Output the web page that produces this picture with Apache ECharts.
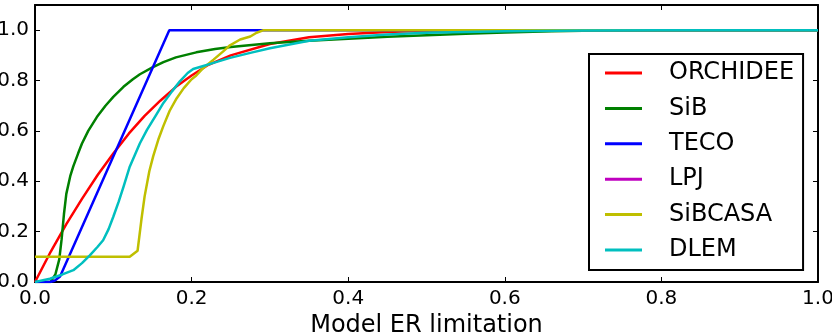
<!DOCTYPE html>
<html>
<head>
<meta charset="utf-8">
<script src="https://cdn.jsdelivr.net/npm/echarts@6/dist/echarts.min.js"></script>
<style>html,body{margin:0;padding:0;background:#fff;}#c{width:832px;height:332px;}</style>
</head>
<body>
<div id="c"></div>
<script>
const seriesNames = ['ORCHIDEE', 'SiB', 'TECO', 'LPJ', 'SiBCASA', 'DLEM'];
const xTicks = [0, 0.2, 0.4, 0.6, 0.8, 1.0];
const yTicks = [0, 0.2, 0.4, 0.6, 0.8, 1.0];

const orchideeX = [0, 0.02, 0.04, 0.06, 0.08, 0.10, 0.12, 0.14, 0.16, 0.18, 0.20, 0.22, 0.25, 0.30, 0.35, 0.40, 0.45, 0.50, 0.55, 0.60, 1.0];
const orchideeY = [0, 0.12, 0.23, 0.33, 0.425, 0.51, 0.59, 0.66, 0.72, 0.775, 0.82, 0.86, 0.90, 0.945, 0.972, 0.985, 0.993, 0.998, 1.0, 1.0, 1.0];

const sibX = [0, 0.02, 0.026, 0.031, 0.034, 0.037, 0.040, 0.045, 0.049, 0.055, 0.060, 0.068, 0.079, 0.09, 0.10, 0.113, 0.125, 0.134, 0.15, 0.164, 0.18, 0.206, 0.23, 0.25, 0.30, 0.35, 0.40, 0.45, 0.50, 0.55, 0.60, 0.66, 0.72, 0.80, 1.0];
const sibY = [0, 0, 0.03, 0.09, 0.17, 0.27, 0.35, 0.42, 0.46, 0.51, 0.55, 0.60, 0.655, 0.70, 0.735, 0.775, 0.805, 0.825, 0.852, 0.873, 0.892, 0.912, 0.925, 0.933, 0.948, 0.958, 0.966, 0.974, 0.980, 0.986, 0.991, 0.996, 0.999, 1.0, 1.0];

const tecoX = [0, 0.019, 0.025, 0.032, 0.1715, 1.0];
const tecoY = [0, 0, 0.005, 0.022, 1.0, 1.0];

const lpjX = [];
const lpjY = [];

const sibcasaX = [0, 0.121, 0.131, 0.136, 0.140, 0.146, 0.151, 0.158, 0.164, 0.172, 0.181, 0.19, 0.20, 0.206, 0.215, 0.228, 0.24, 0.249, 0.262, 0.275, 0.283, 0.292, 1.0];
const sibcasaY = [0.1, 0.1, 0.124, 0.25, 0.34, 0.44, 0.50, 0.57, 0.62, 0.68, 0.73, 0.77, 0.805, 0.82, 0.85, 0.883, 0.915, 0.94, 0.963, 0.975, 0.99, 1.0, 1.0];

const dlemX = [0, 0.019, 0.035, 0.049, 0.06, 0.070, 0.080, 0.087, 0.094, 0.100, 0.107, 0.113, 0.121, 0.134, 0.143, 0.154, 0.164, 0.175, 0.185, 0.195, 0.202, 0.215, 0.228, 0.249, 0.275, 0.30, 0.35, 0.40, 0.45, 0.50, 0.60, 0.70, 0.80, 1.0];
const dlemY = [0, 0.013, 0.03, 0.047, 0.075, 0.106, 0.14, 0.166, 0.21, 0.259, 0.32, 0.378, 0.458, 0.551, 0.604, 0.66, 0.711, 0.757, 0.797, 0.83, 0.846, 0.858, 0.870, 0.890, 0.91, 0.928, 0.958, 0.972, 0.983, 0.99, 0.996, 0.999, 1.0, 1.0];

const colors = ['#ff0000', '#008000', '#0000ff', '#bf00bf', '#bfbf00', '#00bfbf'];
const xs = [orchideeX, sibX, tecoX, lpjX, sibcasaX, dlemX];
const ys = [orchideeY, sibY, tecoY, lpjY, sibcasaY, dlemY];

const font = 'DejaVu Sans';
const chart = echarts.init(document.getElementById('c'), null, {renderer: 'canvas'});

const axisLineStyle = {show: true, onZero: false, lineStyle: {color: '#000', width: 2}};
const tickStyle = {show: true, inside: true, length: 5, lineStyle: {color: '#000', width: 1}};

chart.setOption({
  animation: false,
  backgroundColor: '#fff',
  grid: {left: 35, right: 14, top: 5, bottom: 50, containLabel: false, outerBoundsMode: 'none'},
  legend: {
    orient: 'vertical',
    left: 589,
    top: 54,
    padding: [5, 9, 6, 16],
    itemGap: 7.4,
    itemWidth: 37,
    itemHeight: 3,
    icon: 'rect',
    borderColor: '#000',
    borderWidth: 2,
    borderRadius: 0,
    backgroundColor: '#fff',
    textStyle: {fontFamily: font, fontSize: 24, color: '#000', lineHeight: 28, padding: [0, 0, 0, 22]},
    data: seriesNames
  },
  xAxis: [{
    type: 'value', min: 0, max: 1, interval: 0.2, position: 'bottom',
    name: 'Model ER limitation', nameLocation: 'middle', nameGap: 20,
    nameTextStyle: {fontFamily: font, fontSize: 24, color: '#000', verticalAlign: 'top'},
    axisLine: axisLineStyle, axisTick: tickStyle,
    axisLabel: {fontFamily: font, fontSize: 20, color: '#000', margin: 7, hideOverlap: false,
      formatter: v => v.toFixed(1)},
    splitLine: {show: false}
  }, {
    type: 'value', min: 0, max: 1, interval: 0.2, position: 'top',
    axisLine: axisLineStyle, axisTick: tickStyle, axisLabel: {show: false}, splitLine: {show: false}
  }],
  yAxis: [{
    type: 'value', min: 0, max: 1.1, interval: 0.2, position: 'left',
    axisLine: axisLineStyle, axisTick: tickStyle,
    axisLabel: {fontFamily: font, fontSize: 20, color: '#000', margin: 6,
      formatter: v => (v > 1.05 ? '' : v.toFixed(1))},
    splitLine: {show: false}
  }, {
    type: 'value', min: 0, max: 1.1, interval: 0.2, position: 'right',
    axisLine: axisLineStyle, axisTick: tickStyle, axisLabel: {show: false}, splitLine: {show: false}
  }],
  series: seriesNames.map((name, i) => ({
    name: name,
    type: 'line',
    xAxisIndex: 0,
    yAxisIndex: 0,
    color: colors[i],
    showSymbol: false,
    symbol: 'none',
    smooth: false,
    lineStyle: {color: colors[i], width: 2.5},
    data: xs[i].map((x, j) => [x, ys[i][j]]),
    z: 2 + i
  }))
});
</script>
</body>
</html>
